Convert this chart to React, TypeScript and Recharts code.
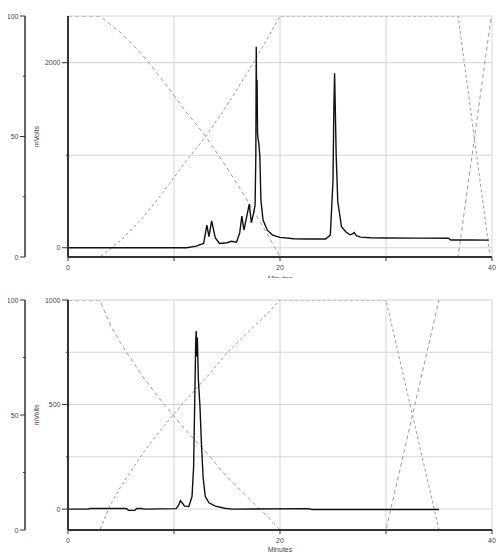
import React from 'react';
import { ComposedChart, Line, XAxis, YAxis, CartesianGrid } from 'recharts';

// ---------- data ----------
// top chromatogram trace (minutes, mVolts)
const topTimes = [0, 11.2, 12.1, 12.8, 13.1, 13.3, 13.55, 13.9, 14.3, 15.0, 15.4, 15.9, 16.2, 16.4, 16.6, 17.1, 17.3, 17.5, 17.65, 17.72, 17.76, 17.8, 17.84, 17.88, 17.93, 18.0, 18.1, 18.2, 18.4, 18.8, 19.3, 20.0, 21.3, 22.5, 24.3, 24.75, 25.0, 25.08, 25.15, 25.2, 25.3, 25.45, 25.8, 26.2, 26.6, 26.85, 27.0, 27.2, 27.6, 28.5, 30, 33, 35.9, 36.1, 38, 39.7];
const topMv = [0, 0, 18, 47, 245, 120, 290, 105, 47, 54, 70, 60, 160, 343, 190, 472, 270, 372, 460, 1000, 2173, 1500, 1812, 1240, 1180, 1130, 983, 515, 300, 190, 137, 112, 97, 94, 94, 137, 730, 1500, 1885, 1600, 1000, 500, 227, 173, 140, 150, 165, 130, 115, 108, 105, 104, 103, 84, 83, 82];

// bottom chromatogram trace (minutes, mVolts)
const bottomTimes = [0, 1.9, 2.1, 5.5, 5.7, 6.3, 6.5, 6.9, 7.2, 10.2, 10.45, 10.6, 10.8, 11.0, 11.4, 11.7, 11.85, 11.95, 12.05, 12.1, 12.15, 12.2, 12.3, 12.45, 12.6, 12.75, 12.95, 13.3, 13.9, 14.8, 15.5, 22.7, 23, 35];
const bottomMv = [0, 0, 3, 3, -6, -6, 3, 3, 0, 2, 20, 40, 28, 14, 12, 60, 200, 500, 800, 852, 730, 820, 620, 490, 300, 150, 60, 30, 14, 4, 0, 2, -2, -2];

// gradient profiles (percent)
const topGradTimesA = [0, 3, 5, 7, 9, 11, 13, 15, 17, 19, 20, 36.8, 39.9];
const topGradA = [100, 100, 93, 84, 73, 61, 50, 37, 23, 8, 0, 0, 99];
const topGradTimesB = [0, 3, 5, 7, 9, 11, 13, 15, 17, 19, 20, 36.8, 39.8];
const topGradB = [0, 0, 7, 16, 27, 39, 50, 63, 77, 92, 100, 100, 1];

const bottomGradTimesA = [0, 3, 4, 5, 7, 9, 11, 13, 15, 17, 19, 20, 30, 35];
const bottomGradA = [100, 100, 89, 81, 67, 55, 44, 34, 23, 14, 5, 0, 0, 100];
const bottomGradTimesB = [0, 3, 4, 5, 7, 9, 11, 13, 15, 17, 19, 20, 30, 35];
const bottomGradB = [0, 0, 11, 19, 33, 45, 56, 66, 77, 86, 95, 100, 100, 0];

// ticks
const xTicks = [0, 10, 20, 30, 40];
const xTickLabels = [0, 20, 40];
const pctTicks = [0, 25, 50, 75, 100];
const pctTickLabels = [0, 50, 100];
const topMvTicks = [0, 1000, 2000];
const topMvTickLabels = [0, 2000];
const bottomMvTicks = [0, 250, 500, 750, 1000];
const bottomMvTickLabels = [0, 500, 1000];
const topMvDomain: [number, number] = [-100, 2505];
const bottomMvDomain: [number, number] = [-100, 1000];

// ---------- helpers ----------
const FONT = '"Liberation Sans", Arial, Helvetica, sans-serif';
const AXIS = '#333';
const LABEL = '#444';

const rows = (ts: number[], vs: number[], key: string) => ts.map((t, i) => ({ t, [key]: vs[i] }));

function makeYTick(labels: number[], major: number, minor: number) {
  return (props: any) => {
    const { x, y, payload } = props;
    const v = payload.value;
    const isLabel = labels.includes(v);
    const len = isLabel ? major : minor;
    return (
      <g>
        {len > 0 && <line x1={x - len} x2={x} y1={y} y2={y} stroke={AXIS} strokeWidth={1} />}
        {isLabel && (
          <text x={x - major - 1.5} y={y + 2.5} textAnchor="end" fontSize={7} fill={LABEL} fontFamily={FONT}>
            {v}
          </text>
        )}
      </g>
    );
  };
}

const XTick = (props: any) => {
  const { x, y, payload } = props;
  const v = payload.value;
  return (
    <g>
      <line x1={x} x2={x} y1={y} y2={y + 4} stroke={AXIS} strokeWidth={1} />
      {xTickLabels.includes(v) && (
        <text x={x} y={y + 13} textAnchor="middle" fontSize={7} fill={LABEL} fontFamily={FONT}>
          {v}
        </text>
      )}
    </g>
  );
};

type PanelProps = {
  wrapHeight: number;
  chartHeight: number;
  marginTop: number;
  xAxisHeight: number;
  minutesOffset: number;
  trace: { t: number; mv: number }[];
  gradA: { t: number; a: number }[];
  gradB: { t: number; b: number }[];
  mvDomain: [number, number];
  mvTicks: number[];
  mvTickLabels: number[];
};

const Panel = (p: PanelProps) => (
  <div style={{ width: 488, height: p.wrapHeight, overflow: 'hidden' }}>
    <ComposedChart width={488} height={p.chartHeight} margin={{ top: p.marginTop, right: 4, bottom: 0, left: 0 }}>
      <CartesianGrid yAxisId="mv" stroke="#d4d4d4" strokeWidth={1} />
      <XAxis
        type="number"
        dataKey="t"
        domain={[0, 40]}
        ticks={xTicks}
        interval={0}
        allowDataOverflow
        height={p.xAxisHeight}
        tickSize={0}
        tickMargin={0}
        tickLine={false}
        tick={XTick}
        axisLine={{ stroke: AXIS, strokeWidth: 2 }}
        label={{ value: 'Minutes', position: 'bottom', offset: p.minutesOffset, fontSize: 7, fill: LABEL, fontFamily: FONT }}
      />
      <YAxis
        yAxisId="mv"
        type="number"
        domain={p.mvDomain}
        ticks={p.mvTicks}
        interval={0}
        allowDataOverflow
        width={43}
        tickSize={0}
        tickMargin={0}
        tickLine={false}
        tick={makeYTick(p.mvTickLabels, 6, 2)}
        axisLine={{ stroke: AXIS, strokeWidth: 2 }}
        label={{ value: 'mVolts', angle: -90, position: 'insideLeft', offset: 12, fontSize: 7, fill: LABEL, fontFamily: FONT, style: { textAnchor: 'middle' } }}
      />
      <YAxis
        yAxisId="pct"
        type="number"
        domain={[0, 100]}
        ticks={pctTicks}
        interval={0}
        allowDataOverflow
        width={17}
        tickSize={0}
        tickMargin={0}
        tickLine={false}
        tick={makeYTick(pctTickLabels, 5, 2)}
        axisLine={{ stroke: AXIS, strokeWidth: 1.5 }}
      />
      <Line
        yAxisId="pct"
        data={p.gradA}
        dataKey="a"
        type="linear"
        stroke="#9c9c9c"
        strokeWidth={1}
        strokeDasharray="4 3"
        dot={false}
        activeDot={false}
        isAnimationActive={false}
      />
      <Line
        yAxisId="pct"
        data={p.gradB}
        dataKey="b"
        type="linear"
        stroke="#98a08a"
        strokeWidth={1}
        strokeDasharray="3 2.5"
        dot={false}
        activeDot={false}
        isAnimationActive={false}
      />
      <Line
        yAxisId="mv"
        data={p.trace}
        dataKey="mv"
        type="linear"
        stroke="#111"
        strokeWidth={1.4}
        dot={false}
        activeDot={false}
        isAnimationActive={false}
      />
    </ComposedChart>
  </div>
);

export default function App() {
  return (
    <div style={{ width: 488, height: 544, padding: '8px 0 0 8px', overflow: 'hidden' }}>
      <style>{'html,body{margin:0;padding:0;overflow:hidden;}'}</style>
      <Panel
        wrapHeight={270}
        chartHeight={280}
        marginTop={8}
        xAxisHeight={31}
        minutesOffset={-12}
        trace={rows(topTimes, topMv, 'mv') as any}
        gradA={rows(topGradTimesA, topGradA, 'a') as any}
        gradB={rows(topGradTimesB, topGradB, 'b') as any}
        mvDomain={topMvDomain}
        mvTicks={topMvTicks}
        mvTickLabels={topMvTickLabels}
      />
      <Panel
        wrapHeight={274}
        chartHeight={274}
        marginTop={22}
        xAxisHeight={22}
        minutesOffset={-5}
        trace={rows(bottomTimes, bottomMv, 'mv') as any}
        gradA={rows(bottomGradTimesA, bottomGradA, 'a') as any}
        gradB={rows(bottomGradTimesB, bottomGradB, 'b') as any}
        mvDomain={bottomMvDomain}
        mvTicks={bottomMvTicks}
        mvTickLabels={bottomMvTickLabels}
      />
    </div>
  );
}
